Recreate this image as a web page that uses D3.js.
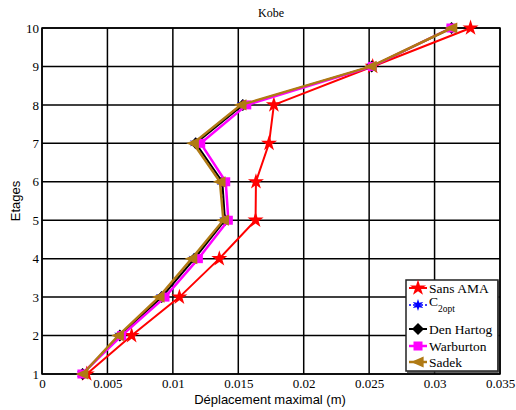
<!DOCTYPE html>
<html><head><meta charset="utf-8">
<script src="https://cdn.jsdelivr.net/npm/d3@7"></script>
<style>body{margin:0;background:#fff}svg{display:block}
.serif{font-family:"Liberation Serif","Times New Roman",Times,"DejaVu Serif",serif}
.sans{font-family:"Liberation Sans",Arial,Helvetica,sans-serif}
</style>
</head><body>
<script>
const floors = [1,2,3,4,5,6,7,8,9,10];
const sansAMA   = [0.00342,0.00685,0.01050,0.01355,0.01632,0.01635,0.01735,0.01772,0.02527,0.03275];
const c2opt     = [0.00308,0.00592,0.00910,0.01160,0.01395,0.01375,0.01170,0.01530,0.02520,0.03130];
const denHartog = [0.00310,0.00595,0.00915,0.01165,0.01398,0.01378,0.01175,0.01535,0.02520,0.03130];
const warburton = [0.00305,0.00609,0.00940,0.01195,0.01424,0.01404,0.01213,0.01565,0.02525,0.03125];
const sadek     = [0.00311,0.00583,0.00894,0.01144,0.01386,0.01360,0.01156,0.01520,0.02515,0.03131];
const xTicks = [0,0.005,0.01,0.015,0.02,0.025,0.03,0.035];
const xTickLabels = ["0","0.005","0.01","0.015","0.02","0.025","0.03","0.035"];
const yTicks = [1,2,3,4,5,6,7,8,9,10];
const seriesNames = ["Sans AMA","C2opt","Den Hartog","Warburton","Sadek"];
const title = "Kobe", xLabel = "Déplacement maximal (m)", yLabel = "Etages";

const W=516,H=410, L=42,R=500,T=28,B=374;
const svg=d3.select("body").append("svg").attr("width",W).attr("height",H);
const x=d3.scaleLinear().domain([0,0.035]).range([L,R]);
const y=d3.scaleLinear().domain([1,10]).range([B,T]);

// grid
const g=svg.append("g");
g.selectAll("line.vx").data(xTicks).join("line").attr("x1",d=>x(d)).attr("x2",d=>x(d)).attr("y1",T).attr("y2",B).attr("stroke","#000").attr("stroke-width",1.5);
g.selectAll("line.hy").data(yTicks).join("line").attr("y1",d=>y(d)).attr("y2",d=>y(d)).attr("x1",L).attr("x2",R).attr("stroke","#000").attr("stroke-width",1.5);
svg.append("rect").attr("x",L).attr("y",T).attr("width",R-L).attr("height",B-T).attr("fill","none").attr("stroke","#000").attr("stroke-width",1.5);

const xa=svg.append("g").attr("transform",`translate(0,${B})`).call(d3.axisBottom(x).tickValues(xTicks).tickFormat((d,i)=>xTickLabels[i]).tickSize(0).tickPadding(5));
const ya=svg.append("g").attr("transform",`translate(${L},0)`).call(d3.axisLeft(y).tickValues(yTicks).tickFormat(d3.format("d")).tickSize(0).tickPadding(3));
[xa,ya].forEach(a=>{a.attr("font-family",null).attr("font-size",null);a.select(".domain").remove();a.selectAll("text").attr("class","serif").style("font-size","13px").attr("fill","#000");});

svg.append("text").attr("class","serif").attr("x",271).attr("y",17).attr("text-anchor","middle").style("font-size","12px").text(title);
svg.append("text").attr("class","sans").attr("x",270).attr("y",404).attr("text-anchor","middle").style("font-size","13px").text(xLabel);
svg.append("text").attr("class","sans").attr("transform","translate(20,201) rotate(-90)").attr("text-anchor","middle").style("font-size","13px").text(yLabel);

const triLeft = s=>{const r=s;return `M${-r},0L${r*0.8},${-r*0.8}L${r*0.8},${r*0.8}Z`;};
const styles=[
 {vals:sansAMA,color:"#ff0000",w:2,dash:null,marker:"star"},
 {vals:c2opt,color:"#0000ff",w:1.5,dash:"2,2",marker:"star6"},
 {vals:denHartog,color:"#000000",w:2,dash:null,marker:"diamond"},
 {vals:warburton,color:"#ff00ff",w:2.5,dash:null,marker:"square"},
 {vals:sadek,color:"#b07a14",w:2.5,dash:null,marker:"tri"}
];
function drawMarker(sel,kind,color){
  if(kind==="star") sel.append("path").attr("d",d3.symbol(d3.symbolStar,80)()).attr("fill",color);
  else if(kind==="star6"){ const p=[];for(let i=0;i<12;i++){const r=i%2?2.5:6;const a=i*Math.PI/6-Math.PI/2;p.push([r*Math.cos(a),r*Math.sin(a)]);} sel.append("path").attr("d","M"+p.join("L")+"Z").attr("fill",color);}
  else if(kind==="diamond") sel.append("path").attr("d","M0,-6L6,0L0,6L-6,0Z").attr("fill",color);
  else if(kind==="square") sel.append("rect").attr("x",-4.5).attr("y",-4.5).attr("width",9).attr("height",9).attr("fill",color);
  else if(kind==="tri") sel.append("path").attr("d",triLeft(7)).attr("fill",color);
}
const line=d3.line().x(d=>x(d[0])).y(d=>y(d[1]));
styles.forEach(s=>{
  const pts=s.vals.map((v,i)=>[v,floors[i]]);
  svg.append("path").attr("d",line(pts)).attr("fill","none").attr("stroke",s.color).attr("stroke-width",s.w).attr("stroke-dasharray",s.dash);
  pts.forEach(p=>{const m=svg.append("g").attr("transform",`translate(${x(p[0])},${y(p[1])})`);drawMarker(m,s.marker,s.color);});
});

// legend
const lg=svg.append("g");
lg.append("rect").attr("x",406).attr("y",280).attr("width",92).attr("height",91).attr("fill","#fff").attr("stroke","#222").attr("stroke-width",1.5);
lg.append("path").attr("d","M498,281L498,372L407,372").attr("fill","none").attr("stroke","#333").attr("stroke-width",1.5);
const ly=[288,305,329,346,362];
styles.forEach((s,i)=>{
  lg.append("line").attr("x1",409).attr("x2",427).attr("y1",ly[i]).attr("y2",ly[i]).attr("stroke",s.color).attr("stroke-width",s.w).attr("stroke-dasharray",s.dash);
  const m=lg.append("g").attr("transform",`translate(418,${ly[i]})`);drawMarker(m,s.marker,s.color);
  const t=lg.append("text").attr("class","serif").attr("x",429).attr("y",ly[i]+4.5).style("font-size","13.5px");
  if(seriesNames[i]==="C2opt"){t.attr("y",ly[i]+1);t.append("tspan").text("C");t.append("tspan").attr("dy",6).style("font-size","9.5px").text("2opt");}
  else t.text(seriesNames[i]);
});
</script>
</body></html>
